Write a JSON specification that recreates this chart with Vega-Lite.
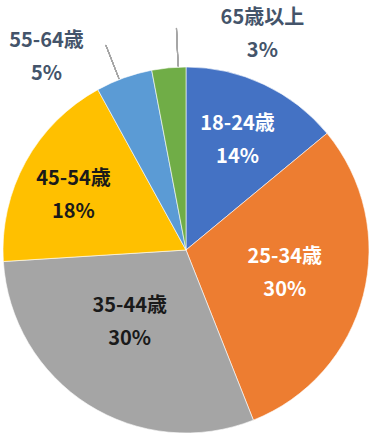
{
  "$schema": "https://vega.github.io/schema/vega-lite/v6.json",
  "width": 366,
  "height": 366,
  "autosize": {"type": "none"},
  "padding": {"left": 3, "top": 67, "right": 3, "bottom": 3},
  "background": "white",
  "config": {"view": {"stroke": null}, "text": {"font": "Noto Sans CJK JP", "fontWeight": "bold", "fontSize": 20, "lineHeight": 33, "align": "center", "baseline": "middle"}},
  "data": {"values": [
    {"name": "18-24歳", "pct": 14, "order": 1},
    {"name": "25-34歳", "pct": 30, "order": 2},
    {"name": "35-44歳", "pct": 30, "order": 3},
    {"name": "45-54歳", "pct": 18, "order": 4},
    {"name": "55-64歳", "pct": 5, "order": 5},
    {"name": "65歳以上", "pct": 3, "order": 6}
  ]},
  "transform": [
    {"window": [{"op": "sum", "field": "pct", "as": "cum"}], "sort": [{"field": "order"}], "frame": [null, 0]},
    {"calculate": "datum.cum - datum.pct / 2", "as": "mid"},
    {"calculate": "[datum.name, datum.pct + '%']", "as": "lines"}
  ],
  "layer": [
    {
      "mark": {"type": "arc", "outerRadius": 183, "stroke": "#ffffff", "strokeWidth": 0.6},
      "encoding": {
        "theta": {"field": "pct", "type": "quantitative", "stack": true, "scale": {"domain": [0, 100]}},
        "order": {"field": "order", "type": "quantitative"},
        "color": {"field": "name", "type": "nominal", "legend": null,
          "scale": {"domain": ["18-24歳", "25-34歳", "35-44歳", "45-54歳", "55-64歳", "65歳以上"],
                    "range": ["#4472C4", "#ED7D31", "#A5A5A5", "#FFC000", "#5B9BD5", "#70AD47"]}}
      }
    },
    {
      "mark": {"type": "arc", "theta": 5.91, "theta2": 5.9105, "radius": 184, "radius2": 220, "filled": false, "stroke": "#A6A6A6", "strokeWidth": 1},
      "encoding": {}
    },
    {
      "mark": {"type": "arc", "theta": 6.24, "theta2": 6.2405, "radius": 184, "radius2": 222, "filled": false, "stroke": "#A6A6A6", "strokeWidth": 1},
      "encoding": {}
    },
    {
      "transform": [{"filter": "datum.name == '18-24歳'"}],
      "mark": {"type": "text", "radius": 121, "dy": -16.5, "color": "#ffffff"},
      "encoding": {"theta": {"field": "mid", "type": "quantitative", "stack": null, "scale": {"domain": [0, 100]}}, "text": {"field": "lines"}}
    },
    {
      "transform": [{"filter": "datum.name == '25-34歳'"}],
      "mark": {"type": "text", "radius": 102, "dy": -18.5, "color": "#ffffff"},
      "encoding": {"theta": {"field": "mid", "type": "quantitative", "stack": null, "scale": {"domain": [0, 100]}}, "text": {"field": "lines"}}
    },
    {
      "transform": [{"filter": "datum.name == '35-44歳'"}],
      "mark": {"type": "text", "radius": 92, "dx": -7, "dy": -21.5, "color": "#1a1a1a"},
      "encoding": {"theta": {"field": "mid", "type": "quantitative", "stack": null, "scale": {"domain": [0, 100]}}, "text": {"field": "lines"}}
    },
    {
      "transform": [{"filter": "datum.name == '45-54歳'"}],
      "mark": {"type": "text", "radius": 125, "dx": -3, "dy": -10.5, "color": "#1a1a1a"},
      "encoding": {"theta": {"field": "mid", "type": "quantitative", "stack": null, "scale": {"domain": [0, 100]}}, "text": {"field": "lines"}}
    },
    {
      "transform": [{"filter": "datum.name == '55-64歳'"}],
      "mark": {"type": "text", "radius": 205, "dx": -70, "dy": -16.5, "color": "#44546A"},
      "encoding": {"theta": {"field": "mid", "type": "quantitative", "stack": null, "scale": {"domain": [0, 100]}}, "text": {"field": "lines"}}
    },
    {
      "transform": [{"filter": "datum.name == '65歳以上'"}],
      "mark": {"type": "text", "radius": 219, "dx": 97, "dy": -14, "color": "#44546A"},
      "encoding": {"theta": {"field": "mid", "type": "quantitative", "stack": null, "scale": {"domain": [0, 100]}}, "text": {"field": "lines"}}
    }
  ]
}
